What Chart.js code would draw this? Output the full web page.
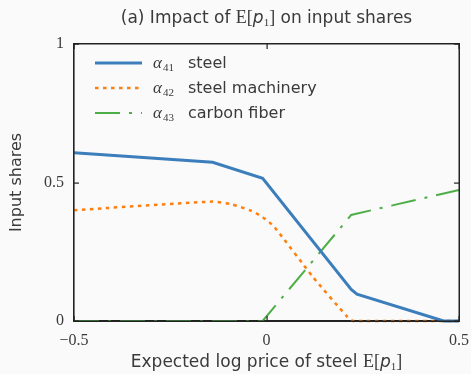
<!DOCTYPE html>
<html>
<head>
<meta charset="utf-8">
<script src="https://cdn.jsdelivr.net/npm/chart.js@4"></script>
<style>
  html, body { margin: 0; padding: 0; background: #fafafa; }
  #wrap { width: 471px; height: 374px; }
</style>
</head>
<body>
<div id="wrap"><canvas id="shares" width="471" height="374"></canvas></div>
<script>
// values
const xTicks = [-0.5, 0, 0.5];
const yTicks = [0, 0.5, 1];

const steelX = [-0.5, -0.14, -0.01, 0.22, 0.235, 0.46, 0.5];
const steelY = [0.607, 0.573, 0.515, 0.114, 0.097, 0.0, 0.0];

const machX = [-0.5, -0.14, -0.09, -0.04, -0.01, 0.02, 0.12, 0.21, 0.225, 0.5];
const machY = [0.40, 0.431, 0.421, 0.398, 0.375, 0.34, 0.16, 0.015, 0.0, 0.0];

const fiberX = [-0.5, -0.01, 0.22, 0.5];
const fiberY = [0.0, 0.0, 0.383, 0.473];

const symbols = ['41', '42', '43'];
const labels = ['steel', 'steel machinery', 'carbon fiber'];

const pts = (xs, ys) => xs.map((x, i) => ({ x: x, y: ys[i] }));

const textCol = '#3a3a3a';
const frameCol = '#222222';

// draw text made of runs with different fonts, centred on cx
function drawRuns(ctx, runs, cx, y) {
    let total = 0;
    runs.forEach(r => { ctx.font = r.font; total += ctx.measureText(r.t).width; });
    let x = cx - total / 2;
    ctx.textAlign = 'left';
    ctx.textBaseline = 'alphabetic';
    runs.forEach(r => {
        ctx.font = r.font;
        ctx.fillText(r.t, x, y + (r.dy || 0));
        x += ctx.measureText(r.t).width;
    });
}

const sans = '17px "DejaVu Sans"';
const serif = '18px "Liberation Serif"';
const ital = 'italic 17px "DejaVu Sans"';
const sub = '11px "Liberation Serif"';

const decor = {
    id: 'decor',
    afterDraw(chart) {
        const ctx = chart.ctx;
        const a = chart.chartArea;
        const xs = chart.scales.x, ys = chart.scales.y;
        const L = Math.round(a.left), R = Math.round(a.right);
        const T = Math.round(a.top), B = Math.round(a.bottom);
        ctx.save();
        ctx.fillStyle = frameCol;
        // frame as filled strips
        ctx.fillRect(L - 1, T - 1, R - L + 2, 1.5);
        ctx.fillRect(L - 1, B - 0.5, R - L + 2, 1.5);
        ctx.fillRect(L - 1, T - 1, 1.5, B - T + 2);
        ctx.fillRect(R - 0.5, T - 1, 1.5, B - T + 2);
        // inward ticks on all sides
        xTicks.forEach(v => {
            const px = Math.round(xs.getPixelForValue(v));
            ctx.fillRect(px - 0.5, B - 5, 1.2, 5);
            ctx.fillRect(px - 0.5, T, 1.2, 5);
        });
        yTicks.forEach(v => {
            const py = Math.round(ys.getPixelForValue(v));
            ctx.fillRect(L, py - 0.5, 5, 1.2);
            ctx.fillRect(R - 5, py - 0.5, 5, 1.2);
        });

        ctx.fillStyle = textCol;
        const cx = (a.left + a.right) / 2;
        // title
        drawRuns(ctx, [
            { t: '(a) Impact of ', font: sans },
            { t: 'E[', font: serif },
            { t: 'p', font: ital },
            { t: '1', font: sub, dy: 3 },
            { t: ']', font: serif },
            { t: ' on input shares', font: sans }
        ], cx, 23);
        // x axis title
        drawRuns(ctx, [
            { t: 'Expected log price of steel ', font: sans },
            { t: 'E[', font: serif },
            { t: 'p', font: ital },
            { t: '1', font: sub, dy: 3 },
            { t: ']', font: serif }
        ], cx, 367);

        // legend inside the plot
        chart.data.datasets.forEach((ds, i) => {
            const ly = a.top + 19 + i * 25;
            ctx.beginPath();
            ctx.strokeStyle = ds.borderColor;
            ctx.lineWidth = ds.borderWidth;
            ctx.setLineDash(ds.borderDash || []);
            ctx.moveTo(a.left + 21, ly);
            ctx.lineTo(a.left + 68, ly);
            ctx.stroke();
            ctx.setLineDash([]);
            ctx.fillStyle = textCol;
            ctx.textBaseline = 'alphabetic';
            ctx.textAlign = 'left';
            ctx.font = 'italic 17px "Liberation Serif"';
            ctx.fillText('α', a.left + 79, ly + 5);
            ctx.font = '11px "Liberation Serif"';
            ctx.fillText(symbols[i], a.left + 89, ly + 8);
            ctx.font = '16px "DejaVu Sans"';
            ctx.fillText(ds.label, a.left + 114, ly + 5);
        });
        ctx.restore();
    }
};

const ctx = document.getElementById('shares').getContext('2d');
const chart = new Chart(ctx, {
    type: 'line',
    data: {
        datasets: [
            {
                label: labels[0],
                data: pts(steelX, steelY),
                borderColor: '#3c7ebb',
                borderWidth: 3,
                pointRadius: 0,
                tension: 0,
                clip: false
            },
            {
                label: labels[1],
                data: pts(machX, machY),
                borderColor: '#ff7f0e',
                borderWidth: 2.5,
                borderDash: [3.5, 4.5],
                pointRadius: 0,
                tension: 0.2,
                clip: false
            },
            {
                label: labels[2],
                data: pts(fiberX, fiberY),
                borderColor: '#4dae48',
                borderWidth: 2,
                borderDash: [25, 9, 3, 9],
                pointRadius: 0,
                tension: 0,
                clip: false
            }
        ]
    },
    options: {
        responsive: false,
        animation: false,
        devicePixelRatio: 1,
        layout: { padding: { top: 44, right: 12, bottom: 0, left: 0 } },
        plugins: {
            legend: { display: false },
            title: { display: false },
            tooltip: { enabled: false }
        },
        scales: {
            x: {
                type: 'linear',
                min: -0.5,
                max: 0.5,
                afterFit: s => { s.height = 53; s.paddingLeft = 0; s.paddingRight = 0; },
                afterBuildTicks: s => { s.ticks = xTicks.map(v => ({ value: v })); },
                grid: { display: false, drawTicks: false },
                border: { display: true, color: frameCol, width: 1.2 },
                ticks: {
                    padding: 10,
                    color: textCol,
                    font: { family: 'Liberation Serif', size: 16 },
                    callback: v => v < 0 ? '\u2212' + Math.abs(v) : String(v)
                }
            },
            y: {
                min: 0,
                max: 1,
                afterFit: s => { s.width = 74; s.paddingTop = 0; s.paddingBottom = 0; },
                afterBuildTicks: s => { s.ticks = yTicks.map(v => ({ value: v })); },
                grid: { display: false, drawTicks: false },
                border: { display: true, color: frameCol, width: 1.2 },
                ticks: {
                    padding: 10,
                    color: textCol,
                    font: { family: 'Liberation Serif', size: 16 },
                    callback: v => String(v)
                },
                title: {
                    display: true,
                    text: 'Input shares',
                    color: textCol,
                    font: { family: 'DejaVu Sans', size: 16 },
                    padding: { top: 7, bottom: 0 }
                }
            }
        }
    },
    plugins: [decor]
});
</script>
</body>
</html>
